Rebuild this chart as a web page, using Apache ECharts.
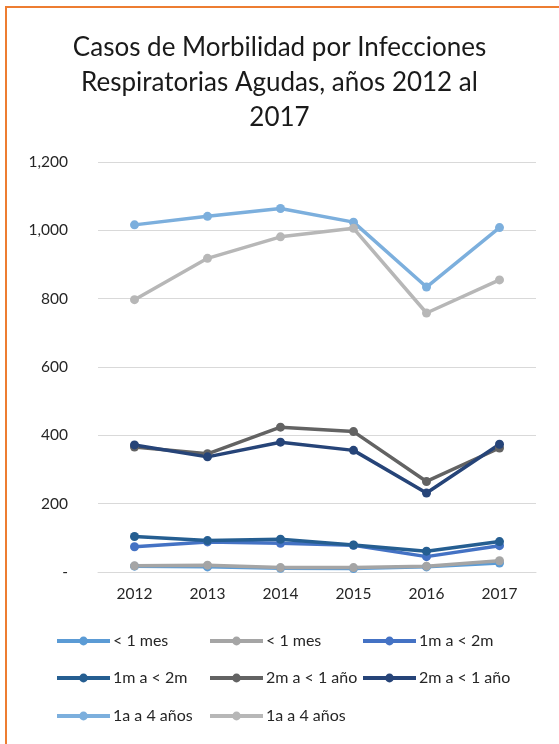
<!DOCTYPE html>
<html>
<head>
<meta charset="utf-8">
<script src="https://cdn.jsdelivr.net/npm/echarts@6/dist/echarts.min.js"></script>
<style>
html,body{margin:0;padding:0;background:#fff;}
#wrap{position:relative;width:559px;height:744px;overflow:hidden;}
#frame{position:absolute;left:5px;top:6px;width:600px;height:800px;border-left:2px solid #ED7D31;border-top:2px solid #ED7D31;box-sizing:border-box;}
#chart{position:absolute;left:0;top:0;width:559px;height:744px;}
</style>
</head>
<body>
<div id="wrap"><div id="frame"></div><div id="chart"></div></div>
<script>
const titleText = 'Casos de Morbilidad por Infecciones\nRespiratorias Agudas, años 2012 al\n2017';
const years = ['2012', '2013', '2014', '2015', '2016', '2017'];
const seriesLabels = ['< 1 mes', '< 1 mes', '1m a < 2m', '1m a < 2m', '2m a < 1 año', '2m a < 1 año', '1a a 4 años', '1a a 4 años'];
const seriesColors = ['#5B9BD5', '#A5A5A5', '#4472C4', '#255E91', '#636363', '#264478', '#7CAFDD', '#B7B7B7'];
const menos1mesA = [17, 15, 11, 10, 15, 26];
const menos1mesB = [18, 20, 13, 13, 17, 33];
const m1a2A = [74, 88, 84, 78, 45, 77];
const m1a2B = [104, 92, 96, 79, 61, 89];
const m2a1anoA = [366, 346, 424, 411, 265, 363];
const m2a1anoB = [372, 337, 380, 356, 231, 374];
const a1a4A = [1016, 1041, 1064, 1024, 834, 1008];
const a1a4B = [797, 918, 981, 1006, 758, 855];
const seriesData = [menos1mesA, menos1mesB, m1a2A, m1a2B, m2a1anoA, m2a1anoB, a1a4A, a1a4B];
const yTicks = [0, 200, 400, 600, 800, 1000, 1200];

const FONT = 'Lato';
const ids = seriesLabels.map((l, i) => 's' + i);
const legendPos = [[55, 643], [208, 643], [361, 643], [55, 680], [208, 680], [361, 680], [55, 718], [208, 718]];

const chart = echarts.init(document.getElementById('chart'), null, {renderer: 'canvas'});
chart.setOption({
  animation: false,
  backgroundColor: 'transparent',
  title: {
    text: titleText, left: 'center', top: 25,
    textStyle: {fontFamily: FONT, fontSize: 26, fontWeight: 'normal', color: '#1a1a1a', lineHeight: 35}
  },
  grid: {left: 98, right: 23, top: 162, bottom: 172},
  xAxis: {
    type: 'category', data: years, boundaryGap: true,
    axisLine: {lineStyle: {color: '#D9D9D9', width: 1}},
    axisTick: {show: false},
    axisLabel: {fontFamily: FONT, fontSize: 15.5, color: '#262626', margin: 14}
  },
  yAxis: {
    type: 'value', min: 0, max: 1200, interval: 200,
    axisLine: {show: false}, axisTick: {show: false},
    splitLine: {lineStyle: {color: '#D9D9D9', width: 1}},
    axisLabel: {
      fontFamily: FONT, fontSize: 15.5, color: '#262626', margin: 30,
      formatter: v => v === 0 ? '-' : v.toLocaleString('en-US')
    }
  },
  legend: ids.map((id, i) => ({
    data: [id], left: legendPos[i][0], top: legendPos[i][1] - 10, padding: 0,
    itemWidth: 53, itemHeight: 11, itemGap: 0,
    lineStyle: {width: 4},
    formatter: n => seriesLabels[ids.indexOf(n)],
    textStyle: {fontFamily: FONT, fontSize: 16, color: '#262626', padding: [0, 0, 0, -2]}
  })),
  series: seriesData.map((d, i) => ({
    name: ids[i], type: 'line', data: d,
    symbol: 'circle', symbolSize: 9,
    color: seriesColors[i],
    lineStyle: {width: 3.5, color: seriesColors[i]},
    itemStyle: {color: seriesColors[i]}
  }))
});
</script>
</body>
</html>
